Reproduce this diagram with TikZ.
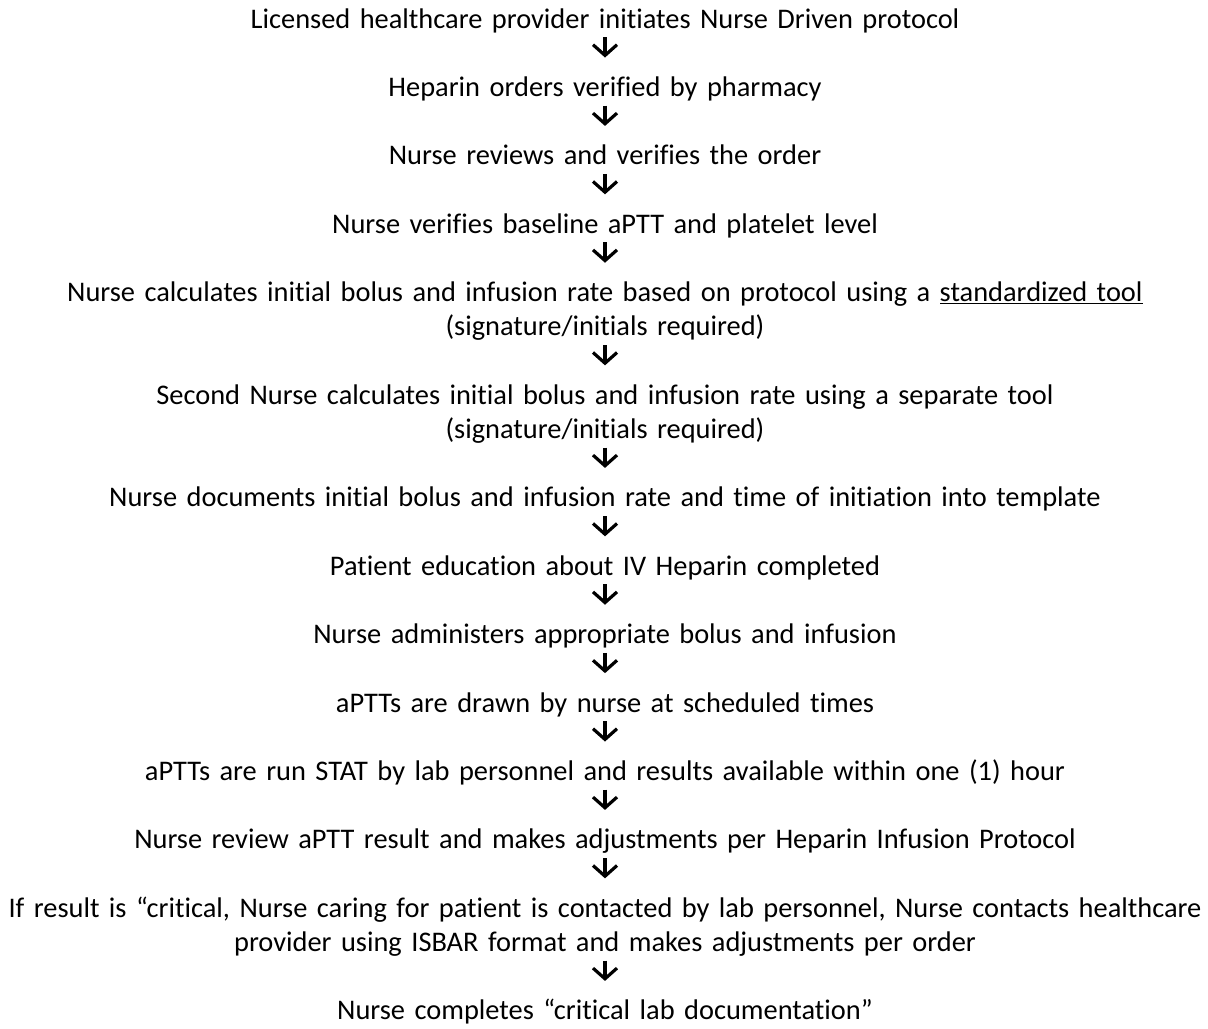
\documentclass[tikz,border=0pt]{standalone}
\usepackage{fontspec}
\setmainfont{Carlito}[Ligatures=NoCommon]
\usetikzlibrary{arrows.meta}

\tikzset{
  flowtext/.style={anchor=base, inner sep=0pt, text width=975pt, align=center,
    font=\fontsize{21.3}{25.65}\selectfont,
    execute at begin node=\strut, execute at end node=\strut},
  flowarrow/.style={-{Straight Barb[length=8pt,width=18pt]}, line width=2.4pt,
    shorten <=-1pt, shorten >=11pt}
}

\begin{document}
\begin{tikzpicture}[x=0.75pt,y=0.75pt,yscale=-1,xscale=1]
\useasboundingbox (0,0) rectangle (1208,1029); %set diagram to 1208 x 1029

% Text Node
\node (initiate) at (605,28) [flowtext] {Licensed healthcare provider initiates Nurse Driven protocol};
% Text Node
\node (pharmacy) at (605,96.4) [flowtext] {Heparin orders verified by pharmacy};
% Text Node
\node (review) at (605,164.8) [flowtext] {Nurse reviews and verifies the order};
% Text Node
\node (baseline) at (605,233.2) [flowtext] {Nurse verifies baseline aPTT and platelet level};
% Text Node
\node (calcone) at (605,301.6) [flowtext] {Nurse calculates initial bolus and infusion rate based on protocol using a \underline{standardized tool}\\(signature/initials required)};
% Text Node
\node (calctwo) at (605,404.2) [flowtext] {Second Nurse calculates initial bolus and infusion rate using a separate tool\\(signature/initials required)};
% Text Node
\node (document) at (605,506.8) [flowtext] {Nurse documents initial bolus and infusion rate and time of initiation into template};
% Text Node
\node (educate) at (605,575.2) [flowtext] {Patient education about IV Heparin completed};
% Text Node
\node (administer) at (605,643.6) [flowtext] {Nurse administers appropriate bolus and infusion};
% Text Node
\node (drawn) at (605,712) [flowtext] {aPTTs are drawn by nurse at scheduled times};
% Text Node
\node (stat) at (605,780.4) [flowtext] {aPTTs are run STAT by lab personnel and results available within one (1) hour};
% Text Node
\node (adjust) at (605,848.8) [flowtext] {Nurse review aPTT result and makes adjustments per Heparin Infusion Protocol};
% Text Node
\node (critical) at (605,917.2) [flowtext] {If result is “critical, Nurse caring for patient is contacted by lab personnel, Nurse contacts healthcare\\provider using ISBAR format and makes adjustments per order};
% Text Node
\node (labdoc) at (605,1019.8) [flowtext] {Nurse completes “critical lab documentation”};

%Straight Lines
\draw [flowarrow] (initiate) -- (pharmacy);
\draw [flowarrow] (pharmacy) -- (review);
\draw [flowarrow] (review) -- (baseline);
\draw [flowarrow] (baseline) -- (calcone);
\draw [flowarrow] (calcone) -- (calctwo);
\draw [flowarrow] (calctwo) -- (document);
\draw [flowarrow] (document) -- (educate);
\draw [flowarrow] (educate) -- (administer);
\draw [flowarrow] (administer) -- (drawn);
\draw [flowarrow] (drawn) -- (stat);
\draw [flowarrow] (stat) -- (adjust);
\draw [flowarrow] (adjust) -- (critical);
\draw [flowarrow] (critical) -- (labdoc);

\end{tikzpicture}
\end{document}
